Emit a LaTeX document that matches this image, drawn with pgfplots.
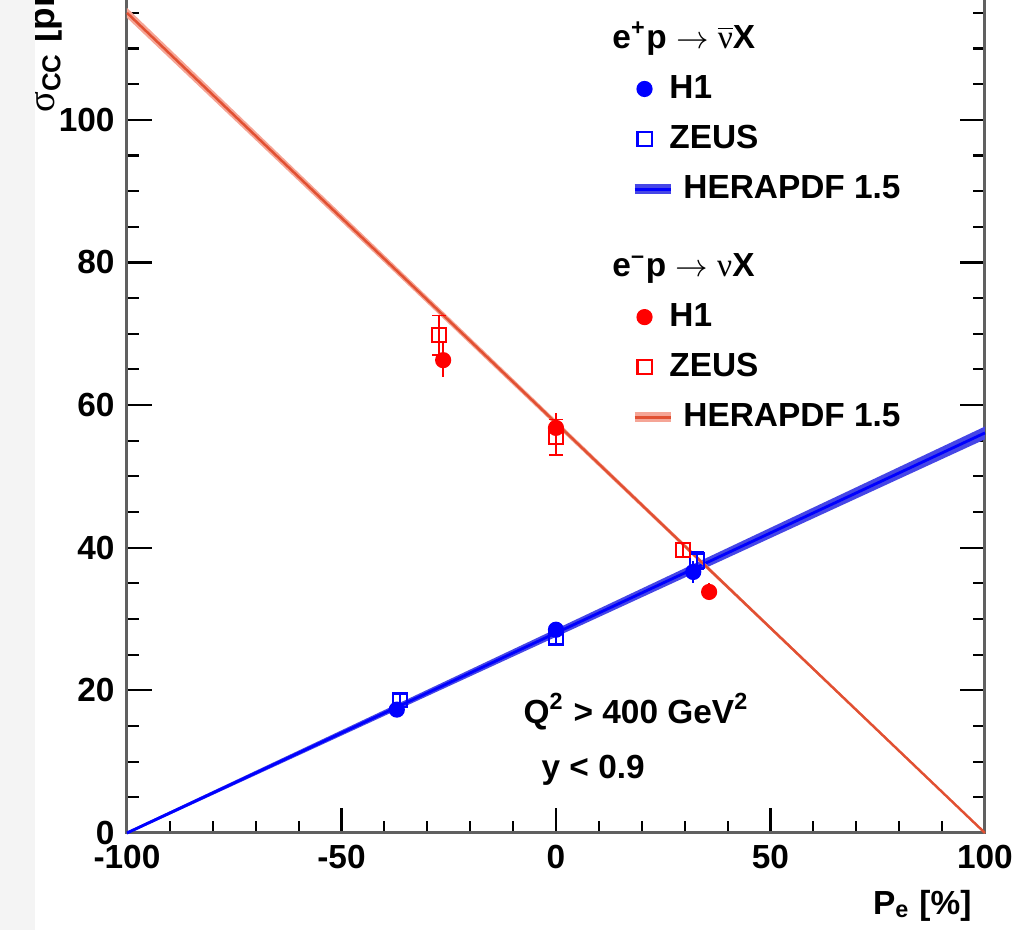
\documentclass[border=0pt]{standalone}
\usepackage{pgfplots}
\pgfplotsset{compat=1.18}
\usepackage{fontspec}
\setmainfont{Liberation Sans}
\newfontfamily\symf{Liberation Serif}

\definecolor{hblue}{RGB}{0,0,255}
\definecolor{bandblue}{RGB}{70,70,230}
\definecolor{hred}{RGB}{255,0,0}
\definecolor{linered}{RGB}{225,80,50}
\definecolor{bandred}{RGB}{245,165,150}

\pgfplotsset{
    markleg/.style={legend image code/.code={\draw[##1] plot coordinates {(0.1cm,0cm)};}},
    blueband/.style={legend image code/.code={
        \draw[bandblue, line width=2.8pt] (0cm,0cm) -- (0.36cm,0cm);
        \draw[hblue, line width=0.8pt] (0cm,0cm) -- (0.36cm,0cm);}},
    redband/.style={legend image code/.code={
        \draw[bandred, line width=2.8pt] (0cm,0cm) -- (0.36cm,0cm);
        \draw[linered, line width=0.7pt] (0cm,0cm) -- (0.36cm,0cm);}},
}

\newcommand\st{\rule[-2pt]{0pt}{9pt}}
\newcommand\nubar{\ensuremath{\overline{\hbox{\symf\mdseries ν}}}}
\newcommand\nusym{{\symf\mdseries ν}}
\newcommand\txt{\fontsize{9.5}{10}\selectfont\bfseries}

\begin{document}
\begin{tikzpicture}
\begin{axis}[
    x=0.0429cm, y=0.0713cm,
    xmin=-100, xmax=100, ymin=0, ymax=125,
    clip=false,
    axis line style={draw=gray!75!black, line width=0.85pt},
    xtick={-100,-50,0,50,100},
    xticklabels={-100,-50,0,50,100},
    minor x tick num=4,
    ytick={0,20,40,60,80,100},
    yticklabels={0,20,40,60,80,100},
    minor ytick={5,10,15,25,30,35,45,50,55,65,70,75,85,90,95,105,110,115,120},
    tick align=inside,
    major tick length=0.25cm,
    minor tick length=0.12cm,
    tick style={black, line width=0.6pt},
    ticklabel style={font=\txt},
    legend style={at={(axis cs:17.0,113.9)}, anchor=north west,
        draw=none, fill=none, inner sep=0pt, row sep=5.75pt, column sep=0.08cm,
        nodes={inner sep=0pt},
        font=\txt},
    legend cell align=left,
]
% HERAPDF 1.5 bands, e+p (blue) and e-p (red)
\addplot[forget plot, fill=bandblue, draw=none]
    coordinates {(-100,-0.2) (100,55.2) (100,57.0) (-100,0.2)} --cycle;
\addplot[forget plot, hblue, line width=0.8pt]
    coordinates {(-100,0) (100,56.1)};
\addplot[forget plot, fill=bandred, draw=none]
    coordinates {(-100,114.3) (100,-0.1) (100,0.1) (-100,115.7)} --cycle;
\addplot[forget plot, linered, line width=0.7pt]
    coordinates {(-100,115) (100,0)};

% e+p data
\addplot[forget plot, only marks, hblue, mark=*, mark size=2.1pt,
    error bars/.cd, y dir=both, y explicit, error mark=none,
    error bar style={line width=0.6pt}]
    coordinates {(-37.1,17.3) +- (0,0.8) (0,28.5) +- (0,0.8) (32.0,36.6) +- (0,1.5)};
\addplot[forget plot, only marks, hblue, mark=square, mark size=2pt,
    mark options={line width=0.6pt},
    error bars/.cd, y dir=both, y explicit,
    error bar style={line width=0.6pt}]
    coordinates {(-36.4,18.6) +- (0,0.9) (0,27.3) +- (0,0.8) (32.8,38.2) +- (0,1.2)};

% e-p data
\addplot[forget plot, only marks, hred, mark=*, mark size=2.1pt,
    error bars/.cd, y dir=both, y explicit, error mark=none,
    error bar style={line width=0.6pt}]
    coordinates {(-26.3,66.3) +- (0,2.4) (0,56.8) +- (0,2.1) (35.7,33.8) +- (0,1.2)};
\addplot[forget plot, only marks, hred, mark=square, mark size=2pt,
    mark options={line width=0.6pt},
    error bars/.cd, y dir=both, y explicit,
    error bar style={line width=0.6pt}]
    coordinates {(-27.2,69.8) +- (0,2.8) (0,55.5) +- (0,2.5) (29.7,39.7) +- (0,1.0)};

% legend
\addlegendimage{empty legend}
\addlegendentry{\hspace{-0.71cm}\st e\textsuperscript{+}p $\rightarrow$ \nubar X}
\addlegendimage{only marks, hblue, mark=*, mark size=2.1pt, markleg}
\addlegendentry{\hspace{-0.14cm}\st H1}
\addlegendimage{only marks, hblue, mark=square, mark size=2pt, mark options={line width=0.6pt}, markleg}
\addlegendentry{\hspace{-0.14cm}\st ZEUS}
\addlegendimage{blueband}
\addlegendentry{\st HERAPDF 1.5}
\addlegendimage{empty legend}
\addlegendentry{\hspace{-0.71cm}\rule[-2pt]{0pt}{16.9pt}e\textsuperscript{–}p $\rightarrow$ \nusym X}
\addlegendimage{only marks, hred, mark=*, mark size=2.1pt, markleg}
\addlegendentry{\hspace{-0.14cm}\st H1}
\addlegendimage{only marks, hred, mark=square, mark size=2pt, mark options={line width=0.6pt}, markleg}
\addlegendentry{\hspace{-0.14cm}\st ZEUS}
\addlegendimage{redband}
\addlegendentry{\st HERAPDF 1.5}

% labels and cuts
\node[anchor=west, inner sep=0pt, font=\txt]
    at (axis cs:-7.7,17.0) {Q\textsuperscript{2} > 400 GeV\textsuperscript{2}};
\node[anchor=west, inner sep=0pt, font=\txt]
    at (axis cs:-3.5,8.8) {y < 0.9};
\node[anchor=east, inner sep=0pt, font=\txt]
    at (axis cs:97.0,-10.2) {P\textsubscript{e} [\%]};
\node[anchor=west, rotate=90, inner sep=0pt, font=\fontsize{10.5}{11}\selectfont\bfseries]
    at (axis cs:-119.1,100.9) {{\symf\mdseries\fontsize{11}{12}\selectfont σ}\textsubscript{CC} [pb]};

\coordinate (bbsw) at (axis cs:-129.6,-13.6);
\coordinate (bbne) at (axis cs:106.3,116.8);
\coordinate (strip) at (axis cs:-121.5,116.8);
\end{axis}
\fill[gray!9] (bbsw) rectangle (strip);
\pgfresetboundingbox
\useasboundingbox (bbsw) rectangle (bbne);
\end{tikzpicture}
\end{document}
